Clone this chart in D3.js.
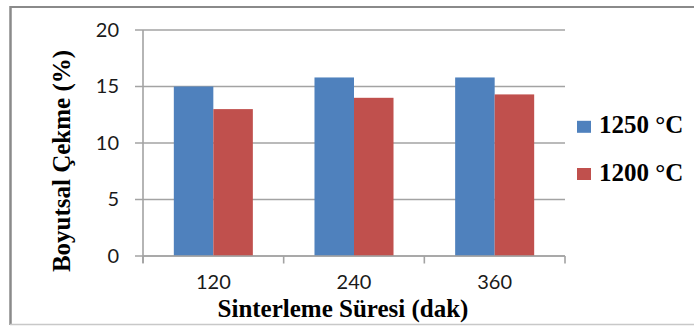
<!DOCTYPE html>
<html>
<head>
<meta charset="utf-8">
<script src="https://cdn.jsdelivr.net/npm/d3@7"></script>
<style>
  html, body { margin: 0; padding: 0; background: #fff; }
  svg { display: block; }
</style>
</head>
<body>
<svg id="chart" width="694" height="326"></svg>
<script>
// Sintering time categories (minutes) and shrinkage per temperature series
const categories = ["120", "240", "360"];
const seriesNames = ["1250 °C", "1200 °C"];
const values1250 = [15.0, 15.8, 15.8];
const values1200 = [13.0, 14.0, 14.3];
const yTicks = [0, 5, 10, 15, 20];
const seriesColors = ["#4F81BD", "#C0504D"];

const svg = d3.select("#chart");
const plot = { left: 143, right: 565, top: 30, bottom: 256 };

// outer chart frame
svg.append("line").attr("x1", 10.5).attr("x2", 10.5).attr("y1", 6).attr("y2", 325)
  .attr("stroke", "#8a8a8a").attr("stroke-width", 2.5);
svg.append("line").attr("x1", 10).attr("x2", 694).attr("y1", 7).attr("y2", 7)
  .attr("stroke", "#8a8a8a").attr("stroke-width", 2);
svg.append("line").attr("x1", 10).attr("x2", 694).attr("y1", 324.5).attr("y2", 324.5)
  .attr("stroke", "#c8c8c8").attr("stroke-width", 1.5);

const x0 = d3.scaleBand().domain(categories).range([plot.left, plot.right]).padding(0);
const x1 = d3.scaleBand().domain(seriesNames).range([0, x0.bandwidth()])
  .paddingInner(0).paddingOuter(0.78);
const y = d3.scaleLinear().domain([0, 20]).range([plot.bottom, plot.top]);

const gridColor = "#a3a3a3";

// horizontal gridlines, extended left as tick marks
svg.append("g").selectAll("line").data(yTicks).join("line")
  .attr("x1", plot.left - 8).attr("x2", plot.right)
  .attr("y1", d => y(d)).attr("y2", d => y(d))
  .attr("stroke", gridColor).attr("stroke-width", 1.6);

// bars
const rows = categories.map((c, i) => ({ cat: c, vals: [values1250[i], values1200[i]] }));
const groups = svg.append("g").selectAll("g").data(rows).join("g")
  .attr("transform", d => `translate(${x0(d.cat)},0)`);
groups.selectAll("rect").data(d => d.vals.map((v, j) => ({ name: seriesNames[j], v, j })))
  .join("rect")
  .attr("x", d => x1(d.name))
  .attr("width", x1.bandwidth())
  .attr("y", d => y(d.v))
  .attr("height", d => y(0) - y(d.v))
  .attr("fill", d => seriesColors[d.j]);

// y axis
const yAxis = svg.append("g").attr("transform", `translate(${plot.left},0)`)
  .call(d3.axisLeft(y).tickValues(yTicks).tickSize(8).tickPadding(16));
yAxis.select(".domain").attr("stroke", gridColor).attr("stroke-width", 1.6)
  .attr("d", `M0,${plot.top}V${plot.bottom + 7}`);
yAxis.selectAll(".tick line").remove();
yAxis.selectAll("text").attr("font-family", "Lato, sans-serif").attr("font-size", 20)
  .attr("fill", "#1a1a1a");

// x axis: labels centred in categories, tick marks at category boundaries
const xAxis = svg.append("g").attr("transform", `translate(0,${plot.bottom})`)
  .call(d3.axisBottom(x0).tickSize(0).tickPadding(18.8));
xAxis.select(".domain").attr("stroke", gridColor).attr("stroke-width", 1.6)
  .attr("d", `M${plot.left},0H${plot.right}`);
xAxis.selectAll("text").attr("font-family", "Lato, sans-serif").attr("font-size", 20)
  .attr("fill", "#1a1a1a");
const bounds = categories.map(c => x0(c)).concat([x0.range()[1]]);
xAxis.append("g").selectAll("line").data(bounds).join("line")
  .attr("x1", d => d).attr("x2", d => d).attr("y1", 0).attr("y2", 7.5)
  .attr("stroke", gridColor).attr("stroke-width", 1.6);

// axis titles
const titleFont = "'Liberation Serif', 'Times New Roman', serif";
svg.append("text")
  .attr("x", 343).attr("y", 316.5)
  .attr("text-anchor", "middle")
  .attr("font-family", titleFont).attr("font-weight", "bold").attr("font-size", 25)
  .attr("fill", "#000")
  .text("Sinterleme Süresi (dak)");
svg.append("text")
  .attr("transform", "translate(70,161) rotate(-90)")
  .attr("text-anchor", "middle")
  .attr("font-family", titleFont).attr("font-weight", "bold").attr("font-size", 25)
  .attr("fill", "#000")
  .text("Boyutsal Çekme (%)");

// legend
const legendY = [133.3, 180.5];
const legend = svg.append("g").selectAll("g").data(seriesNames).join("g")
  .attr("transform", (d, i) => `translate(577,${legendY[i]})`);
legend.append("rect").attr("x", 0).attr("y", -12.5).attr("width", 14).attr("height", 12)
  .attr("fill", (d, i) => seriesColors[i]);
legend.append("text").attr("x", 22).attr("y", 0)
  .attr("font-family", titleFont).attr("font-weight", "bold").attr("font-size", 25)
  .attr("fill", "#000")
  .text(d => d);
</script>
</body>
</html>
